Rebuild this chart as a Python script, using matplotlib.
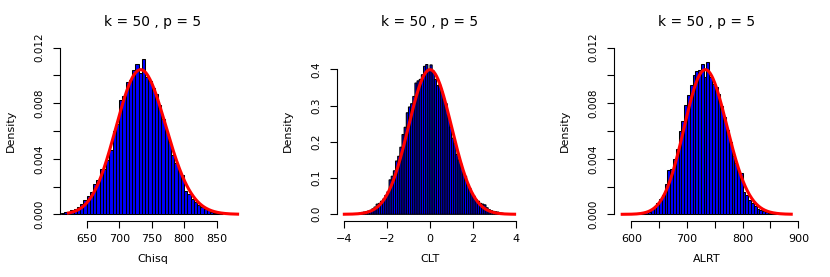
import math
import numpy as np
import matplotlib
matplotlib.use("Agg")
import matplotlib.pyplot as plt
from matplotlib import font_manager

# ---------------- data ----------------
titles = ["k = 50 , p = 5", "k = 50 , p = 5", "k = 50 , p = 5"]
xlabels = ["Chisq", "CLT", "ALRT"]

# Panel 1: Chisq histogram, bins of width 5 starting at 610
chisq_start = 610
chisq_width = 5
chisq_dens = [0.00012, 0.0002, 0.0002, 0.0003, 0.0004, 0.00055, 0.00075, 0.0010,
              0.0013, 0.0016, 0.0022, 0.0025, 0.0033, 0.0033, 0.0039, 0.0046,
              0.0060, 0.0065, 0.0082, 0.0085, 0.0095, 0.0097, 0.0104, 0.0108,
              0.0102, 0.0112, 0.0099, 0.0096, 0.0091, 0.0087, 0.0079, 0.0069,
              0.0060, 0.0052, 0.0043, 0.0037, 0.0031, 0.0028, 0.0017, 0.0015,
              0.0011, 0.0009, 0.0007, 0.0005, 0.00035, 0.00028, 0.0002, 0.00012,
              0.00008, 0.00005]

# Panel 2: CLT histogram, bins of width 0.1 starting at -3.5
clt_start = -3.5
clt_width = 0.1
clt_dens = [0.002, 0.002, 0.003, 0.005, 0.006, 0.007, 0.009, 0.011, 0.015, 0.020,
            0.028, 0.030, 0.036, 0.042, 0.052, 0.062, 0.095, 0.105, 0.120, 0.147,
            0.160, 0.185, 0.220, 0.240, 0.280, 0.296, 0.305, 0.325, 0.362, 0.368,
            0.372, 0.385, 0.408, 0.413, 0.398, 0.412, 0.395, 0.372, 0.355, 0.357,
            0.338, 0.318, 0.305, 0.275, 0.240, 0.210, 0.195, 0.165, 0.150, 0.138,
            0.118, 0.105, 0.082, 0.072, 0.058, 0.050, 0.040, 0.036, 0.030, 0.028,
            0.026, 0.018, 0.013, 0.010, 0.008, 0.007, 0.006, 0.004, 0.003, 0.002]

# Panel 3: ALRT histogram, bins of width 5 starting at 615
alrt_start = 615
alrt_width = 5
alrt_dens = [0.0001, 0.00012, 0.00015, 0.0002, 0.00035, 0.0006, 0.0008, 0.0011,
             0.0014, 0.0022, 0.0032, 0.0033, 0.0040, 0.0047, 0.0060, 0.0067,
             0.0079, 0.0086, 0.0093, 0.0100, 0.0103, 0.0104, 0.0108, 0.0099,
             0.0110, 0.0099, 0.0094, 0.0092, 0.0087, 0.0078, 0.0070, 0.0061,
             0.0052, 0.0042, 0.0037, 0.0031, 0.0030, 0.0016, 0.0014, 0.0010,
             0.0008, 0.0006, 0.0004, 0.0003, 0.00025, 0.0002, 0.0001, 0.00015,
             0.0002]

# reference densities
chisq_df = 735
curve_ranges = [(619.6, 884.4), (-4.05, 4.0), (581.0, 890.0)]

# axes (ticks)
xticks = [[650, 700, 750, 800, 850],
          [-4, -2, 0, 2, 4],
          [600, 650, 700, 750, 800, 850, 900]]
xticklabels = [["650", "700", "750", "800", "850"],
               ["\u22124", "\u22122", "0", "2", "4"],
               ["600", "", "700", "", "800", "", "900"]]
yticks = [[0.000, 0.002, 0.004, 0.006, 0.008, 0.010, 0.012],
          [0.0, 0.1, 0.2, 0.3, 0.4],
          [0.000, 0.002, 0.004, 0.006, 0.008, 0.010, 0.012]]
yticklabels = [["0.000", "", "0.004", "", "0.008", "", "0.012"],
               ["0.0", "0.1", "0.2", "0.3", "0.4"],
               ["0.000", "", "0.004", "", "0.008", "", "0.012"]]
xlims = [(609.0, 895.0), (-4.32, 4.32), (569.0, 903.0)]
ylims = [(-0.00048, 0.01248), (-0.0185, 0.478), (-0.00048, 0.01248)]
edge_lw = [0.75, 0.8, 0.75]
edge_snap = [True, False, True]


def chisq_pdf(x, k):
    x = np.asarray(x, dtype=float)
    logf = (k / 2 - 1) * np.log(x) - x / 2 - (k / 2) * math.log(2) - math.lgamma(k / 2)
    return np.exp(logf)


def norm_pdf(x):
    x = np.asarray(x, dtype=float)
    return np.exp(-0.5 * x ** 2) / math.sqrt(2 * math.pi)


# ---------------- fonts ----------------
avail = {f.name for f in font_manager.fontManager.ttflist}
narrow = ['Liberation Sans Narrow', 'DejaVu Sans'] if 'Liberation Sans Narrow' in avail else ['DejaVu Sans']
plt.rcParams['font.family'] = ['DejaVu Sans']

W, H = 830, 277
fig = plt.figure(figsize=(W / 100, H / 100), dpi=100)

panels = [
    (chisq_start, chisq_width, chisq_dens, lambda x: chisq_pdf(x, chisq_df)),
    (clt_start, clt_width, clt_dens, norm_pdf),
    (alrt_start, alrt_width, alrt_dens, lambda x: chisq_pdf(x, chisq_df)),
]

plot_left = [60, 337, 614]
plot_w = 186
plot_top, plot_bot = 41, 221

for i, (start, width, dens, pdf) in enumerate(panels):
    L = plot_left[i]
    ax = fig.add_axes([L / W, (H - plot_bot) / H, plot_w / W, (plot_bot - plot_top) / H])
    edges = start + width * np.arange(len(dens))
    bars = ax.bar(edges, dens, width=width, align='edge', color='#0000ff',
                  edgecolor='black', linewidth=edge_lw[i])
    for b in bars:
        b.set_snap(edge_snap[i])
    xs = np.linspace(curve_ranges[i][0], curve_ranges[i][1], 400)
    ax.plot(xs, pdf(xs), color='#ff0000', lw=2.2, solid_capstyle='butt')
    ax.set_xlim(*xlims[i])
    ax.set_ylim(*ylims[i])
    for s in ['top', 'right']:
        ax.spines[s].set_visible(False)
    ax.spines['left'].set_bounds(yticks[i][0], yticks[i][-1])
    ax.spines['bottom'].set_bounds(xticks[i][0], xticks[i][-1])
    ax.spines['left'].set_linewidth(0.8)
    ax.spines['bottom'].set_linewidth(0.8)
    ax.set_xticks(xticks[i])
    ax.set_xticklabels(xticklabels[i], fontsize=8)
    ax.set_yticks(yticks[i])
    ax.set_yticklabels(yticklabels[i], fontsize=7.5, rotation=90, va='center',
                       family=narrow)
    ax.tick_params(axis='x', direction='out', length=5, width=0.8, pad=4.5)
    ax.tick_params(axis='y', direction='out', length=5, width=0.8, pad=6)
    cx = (L + plot_w / 2) / W
    fig.text(cx, 1 - 22 / H, titles[i], ha='center', va='center', fontsize=10)
    fig.text(cx, 1 - 259 / H, xlabels[i], ha='center', va='center', fontsize=8)
    fig.text((L - 49) / W, 1 - 131 / H, "Density", ha='center', va='center',
             rotation=90, fontsize=8, family=narrow)

fig.savefig("out.png", dpi=100)
